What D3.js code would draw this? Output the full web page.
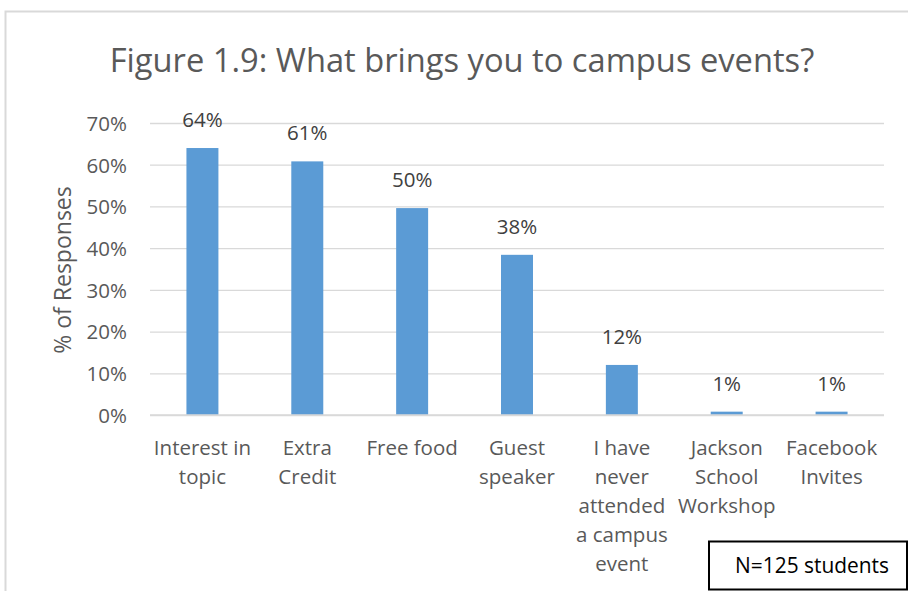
<!DOCTYPE html>
<html>
<head>
<meta charset="utf-8">
<script src="https://cdn.jsdelivr.net/npm/d3@7"></script>
<style>
  html, body { margin: 0; padding: 0; background: #fff; }
  svg { display: block; }
  text { font-family: "Open Sans", "Liberation Sans", sans-serif; }
</style>
</head>
<body>
<svg id="chart" width="908" height="591"></svg>
<script>
const categories = [
  ["Interest in", "topic"],
  ["Extra", "Credit"],
  ["Free food"],
  ["Guest", "speaker"],
  ["I have", "never", "attended", "a campus", "event"],
  ["Jackson", "School", "Workshop"],
  ["Facebook", "Invites"]
];
const values = [0.64, 0.608, 0.496, 0.384, 0.12, 0.008, 0.008];
const valueLabels = ["64%", "61%", "50%", "38%", "12%", "1%", "1%"];
const yTicks = [0, 0.1, 0.2, 0.3, 0.4, 0.5, 0.6, 0.7];
const titleText = "Figure 1.9: What brings you to campus events?";
const yAxisTitle = "% of Responses";
const noteText = "N=125 students";

const svg = d3.select("#chart");
const textColor = "#595959";
const barColor = "#5B9BD5";

// chart border
svg.append("path")
  .attr("d", "M5.5,591 L5.5,11.5 L908,11.5")
  .attr("fill", "none").attr("stroke", "#d9d9d9").attr("stroke-width", 2);

const plot = { left: 150, right: 884, top: 123, bottom: 415 };
const x = d3.scaleBand().domain(d3.range(categories.length))
  .range([plot.left, plot.right]).paddingInner(0.695).paddingOuter(0.3475);
const y = d3.scaleLinear().domain([0, 0.7]).range([plot.bottom, plot.top]);

// gridlines
const yAxis = d3.axisLeft(y).tickValues(yTicks).tickFormat(d3.format(".0%"))
  .tickSize(-(plot.right - plot.left)).tickPadding(22);
const gy = svg.append("g").attr("transform", `translate(${plot.left},0)`).call(yAxis);
gy.select(".domain").remove();
gy.selectAll(".tick line").attr("stroke", "#d9d9d9").attr("stroke-width", 1.3);
gy.selectAll(".tick text").attr("fill", textColor)
  .style("font-size", "20.5px").attr("dy", "0.36em").attr("x", -23);

// bars
svg.append("g").selectAll("rect").data(values).join("rect")
  .attr("x", (d, i) => x(i))
  .attr("width", x.bandwidth())
  .attr("y", d => y(d))
  .attr("height", d => y(0) - y(d))
  .attr("fill", barColor);

// baseline
svg.append("line").attr("x1", plot.left).attr("x2", plot.right)
  .attr("y1", y(0)).attr("y2", y(0)).attr("stroke", "#d9d9d9").attr("stroke-width", 1.5);

// value labels
svg.append("g").selectAll("text").data(values).join("text")
  .attr("x", (d, i) => x(i) + x.bandwidth() / 2)
  .attr("y", d => y(d) - 21)
  .attr("text-anchor", "middle")
  .attr("fill", "#404040")
  .style("font-size", "20.5px")
  .text((d, i) => valueLabels[i]);

// category labels
const catG = svg.append("g");
categories.forEach((lines, i) => {
  const t = catG.append("text")
    .attr("x", x(i) + x.bandwidth() / 2)
    .attr("y", 455)
    .attr("text-anchor", "middle")
    .attr("fill", textColor)
    .style("font-size", "20.5px");
  lines.forEach((ln, j) => {
    t.append("tspan").attr("x", x(i) + x.bandwidth() / 2)
      .attr("y", 455 + j * 29).text(ln);
  });
});

// y axis title
svg.append("text")
  .attr("transform", "translate(71,270) rotate(-90)")
  .attr("text-anchor", "middle")
  .attr("fill", textColor)
  .style("font-size", "23px")
  .text(yAxisTitle);

// title
const title = svg.append("text")
  .attr("x", 462).attr("y", 72)
  .attr("text-anchor", "middle")
  .attr("fill", textColor)
  .style("font-size", "29px")
  .text(titleText);
const tw = title.node().getComputedTextLength();
if (tw > 0) title.style("font-size", (29 * 705 / tw) + "px");

// note box
svg.append("rect").attr("x", 709).attr("y", 541.5).attr("width", 198).attr("height", 48)
  .attr("fill", "#fff").attr("stroke", "#000").attr("stroke-width", 2);
const note = svg.append("text").attr("x", 812).attr("y", 573)
  .attr("text-anchor", "middle").attr("fill", "#000")
  .style("font-size", "19px").text(noteText);
const nw = note.node().getComputedTextLength();
if (nw > 0) note.style("font-size", (19 * 154 / nw) + "px");
</script>
</body>
</html>
